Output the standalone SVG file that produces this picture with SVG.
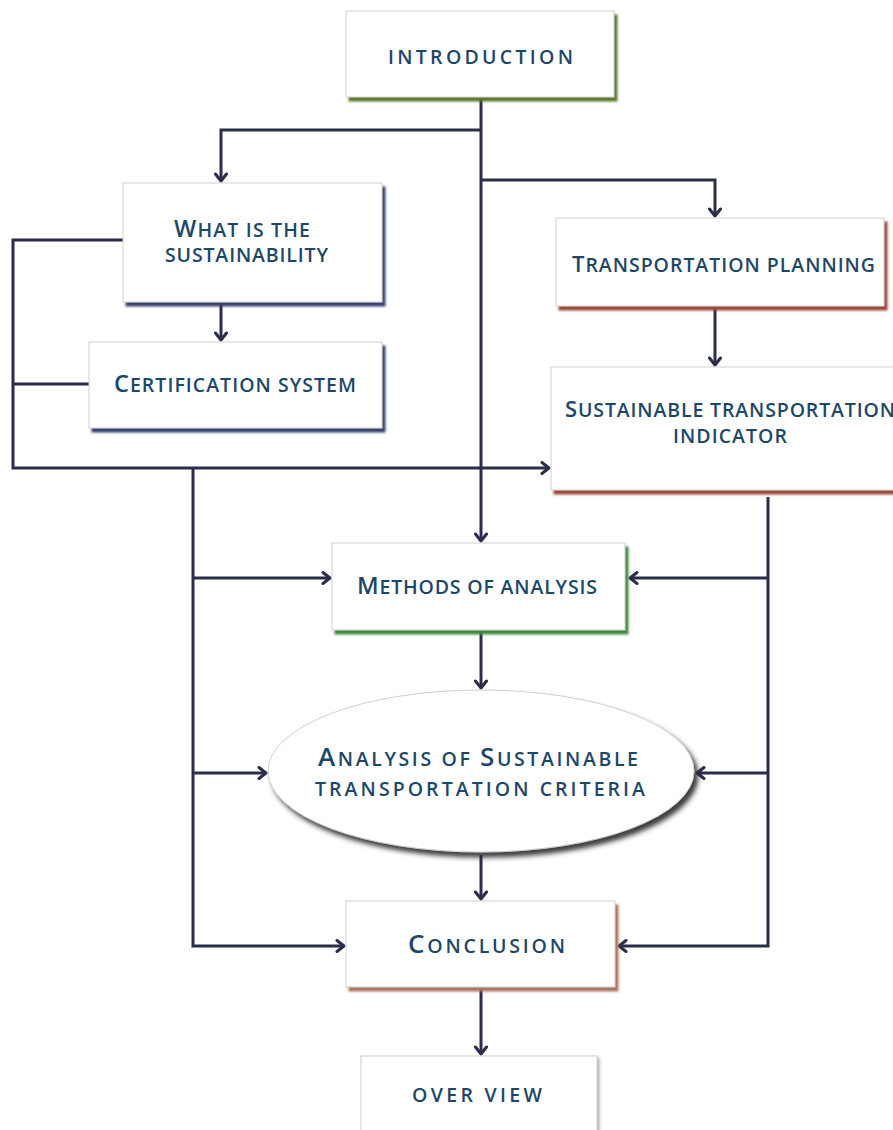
<svg xmlns="http://www.w3.org/2000/svg" width="893" height="1130" viewBox="0 0 893 1130">
  <style>
    .box { fill: #ffffff; stroke: #cfcfcf; stroke-width: 1; }
    .lbl { font-family: "Open Sans", "Liberation Sans", sans-serif; font-weight: 600; fill: #1d4767; text-anchor: middle; font-size: 19.5px; }
    .big { font-size: 23.5px; }
    .wire { fill: none; stroke: #2b2d4a; stroke-width: 3; }
    .arr { marker-end: url(#chev); }
  </style>
  <defs>
    <marker id="chev" viewBox="0 0 12 14" refX="10" refY="7" markerWidth="12" markerHeight="14" markerUnits="userSpaceOnUse" orient="auto">
      <path d="M3,1.5 L10,7 L3,12.5" fill="none" stroke="#2b2d4a" stroke-width="3" stroke-linecap="round" stroke-linejoin="round"/>
    </marker>
    <filter id="shOlive" x="-10%" y="-10%" width="130%" height="140%">
      <feDropShadow dx="3" dy="4" stdDeviation="1.3" flood-color="#587a26" flood-opacity="1"/>
    </filter>
    <filter id="shNavy" x="-10%" y="-10%" width="130%" height="140%">
      <feDropShadow dx="3" dy="4" stdDeviation="1.3" flood-color="#35406e" flood-opacity="1"/>
    </filter>
    <filter id="shRust" x="-10%" y="-10%" width="130%" height="140%">
      <feDropShadow dx="3" dy="4" stdDeviation="1.3" flood-color="#9c4636" flood-opacity="1"/>
    </filter>
    <filter id="shGreen" x="-10%" y="-10%" width="130%" height="140%">
      <feDropShadow dx="3" dy="4" stdDeviation="1.3" flood-color="#3a8a34" flood-opacity="1"/>
    </filter>
    <filter id="shGray" x="-10%" y="-10%" width="130%" height="140%">
      <feDropShadow dx="4" dy="5" stdDeviation="2.5" flood-color="#2a2a2a" flood-opacity="0.9"/>
    </filter>
    <filter id="shTan" x="-10%" y="-10%" width="130%" height="140%">
      <feDropShadow dx="3" dy="4" stdDeviation="1.3" flood-color="#a8755a" flood-opacity="1"/>
    </filter>
    <filter id="shLight" x="-10%" y="-10%" width="130%" height="140%">
      <feDropShadow dx="2" dy="2" stdDeviation="1.6" flood-color="#9a9a9a" flood-opacity="0.8"/>
    </filter>
  </defs>

  <rect width="893" height="1130" fill="#ffffff"/>

  <!-- connectors -->
  <g id="connectors">
    <path class="wire arr" d="M481,97 V541"/>
    <path class="wire arr" d="M481,130 H221 V181"/>
    <path class="wire arr" d="M481,180 H715 V216"/>
    <path class="wire arr" d="M221,303 V340"/>
    <path class="wire arr" d="M123,240 H13 V468 H549"/>
    <path class="wire" d="M89,384 H13"/>
    <path class="wire arr" d="M193,468 V946 H344"/>
    <path class="wire arr" d="M193,578 H330"/>
    <path class="wire arr" d="M193,773 H266"/>
    <path class="wire arr" d="M715,307 V365"/>
    <path class="wire arr" d="M768,497 V946 H619"/>
    <path class="wire arr" d="M768,578 H630"/>
    <path class="wire arr" d="M768,773 H697"/>
    <path class="wire arr" d="M481,630 V688"/>
    <path class="wire arr" d="M481,855 V899"/>
    <path class="wire arr" d="M481,988 V1054"/>
  </g>

  <g id="introduction">
    <rect class="box" x="346" y="11" width="268" height="86" filter="url(#shOlive)"/>
    <text class="lbl" x="480.5" y="64" textLength="185" lengthAdjust="spacing" font-size="22">INTRODUCTION</text>
  </g>

  <g id="sustainability">
    <rect class="box" x="123" y="183" width="259" height="119" filter="url(#shNavy)"/>
    <text class="lbl" x="242" y="237" textLength="136" lengthAdjust="spacing"><tspan class="big">W</tspan>HAT IS THE</text>
    <text class="lbl" x="246.5" y="262" textLength="163" lengthAdjust="spacing">SUSTAINABILITY</text>
  </g>

  <g id="certification">
    <rect class="box" x="89" y="342" width="293" height="86" filter="url(#shNavy)"/>
    <text class="lbl" x="235" y="392" textLength="242" lengthAdjust="spacing" font-size="19"><tspan class="big">C</tspan>ERTIFICATION  SYSTEM</text>
  </g>

  <g id="planning">
    <rect class="box" x="556" y="218" width="328" height="88" filter="url(#shRust)"/>
    <text class="lbl" x="723.5" y="272" textLength="303" lengthAdjust="spacing" font-size="18.5"><tspan font-size="22">T</tspan>RANSPORTATION PLANNING</text>
  </g>

  <g id="indicator">
    <rect class="box" x="551" y="367" width="360" height="123" filter="url(#shRust)"/>
    <text class="lbl" x="730" y="417" textLength="330" lengthAdjust="spacing" font-size="18.5"><tspan font-size="22">S</tspan>USTAINABLE TRANSPORTATION</text>
    <text class="lbl" x="730" y="443" textLength="114" lengthAdjust="spacing" font-size="18.5">INDICATOR</text>
  </g>

  <g id="methods">
    <rect class="box" x="332" y="543" width="293" height="87" filter="url(#shGreen)"/>
    <text class="lbl" x="477" y="594" textLength="240" lengthAdjust="spacing" font-size="19"><tspan class="big">M</tspan>ETHODS OF ANALYSIS</text>
  </g>

  <g id="criteria">
    <ellipse class="box" cx="481" cy="771" rx="213" ry="81" filter="url(#shGray)"/>
    <text class="lbl" x="478" y="766" textLength="320" lengthAdjust="spacing" font-size="22"><tspan font-size="26">A</tspan>NALYSIS OF <tspan font-size="26">S</tspan>USTAINABLE</text>
    <text class="lbl" x="480" y="796" textLength="330" lengthAdjust="spacing" font-size="22">TRANSPORTATION CRITERIA</text>
  </g>

  <g id="conclusion">
    <rect class="box" x="346" y="901" width="269" height="86" filter="url(#shTan)"/>
    <text class="lbl" x="486.5" y="953" textLength="157" lengthAdjust="spacing" font-size="20.5"><tspan font-size="26">C</tspan>ONCLUSION</text>
  </g>

  <g id="overview">
    <rect class="box" x="361" y="1056" width="236" height="90" filter="url(#shLight)"/>
    <text class="lbl" x="477" y="1102" textLength="130" lengthAdjust="spacing" font-size="21">OVER VIEW</text>
  </g>
</svg>
